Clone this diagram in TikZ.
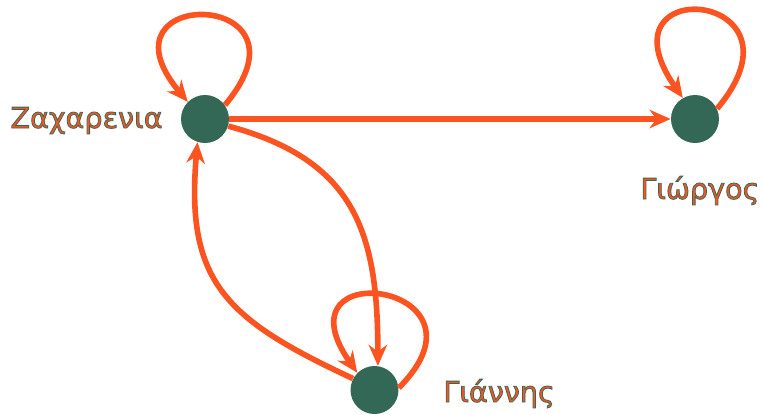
\documentclass[tikz,border=0pt]{standalone}
\usepackage{fontspec}
\newfontfamily\greekfont{DejaVu Sans}
\usepackage{xcolor}
\definecolor{edgeorange}{RGB}{252,84,33}
\definecolor{nodegreen}{RGB}{52,104,86}
\usepackage{tikz}
\usetikzlibrary{arrows.meta,positioning}
% orange letters with a thin green rim
\newcommand{\rimtext}[1]{\special{pdf:literal direct 2 Tr 0.45 w 0.204 0.408 0.337 RG}#1\special{pdf:literal direct 0 Tr}}
\tikzset{
  person/.style={circle, fill=nodegreen, draw=none, minimum size=0.96cm, inner sep=0pt},
  namelbl/.style={font=\greekfont\fontsize{16.3}{19}\selectfont, text=edgeorange, inner sep=0pt},
  link/.style={-{Stealth[length=12pt,width=10.5pt]}, line width=3.2pt, draw=edgeorange},
}

\begin{document}
\begin{tikzpicture}[x=0.02cm,y=0.02cm]
  \useasboundingbox (0,0) rectangle (762,-414);
  % People
  \node[person] (zach) at (205,-119) {};
  \node[person] (gior) at (695,-119) {};
  \node[person] (giann) at (374.5,-390) {};
  % Names
  \node[namelbl, anchor=base east] (zachlbl) at (163,-128) {\rimtext{Ζαχαρενια}};
  \node[namelbl, anchor=base west] (giorlbl) at (640,-199) {\rimtext{Γιώργος}};
  \node[namelbl, anchor=base west] (giannlbl) at (443,-402) {\rimtext{Γιάννης}};
  % Self loops
  \draw[link] (zach.35) to[out=50,in=130,distance=3.05cm] (zach.135);
  \draw[link] (gior.25) to[out=50,in=125,distance=3.1cm] (gior.120);
  \draw[link] (giann.5) to[out=45,in=125,distance=2.95cm] (giann.135);
  % Links between people
  \draw[link] (zach) -- (gior);
  \draw[link] (zach.-17) to[out=-15,in=90,looseness=1.2] (giann.82);
  \draw[link] (giann.152) to[out=155,in=-95,looseness=1.27] (zach.-108);
\end{tikzpicture}
\end{document}
